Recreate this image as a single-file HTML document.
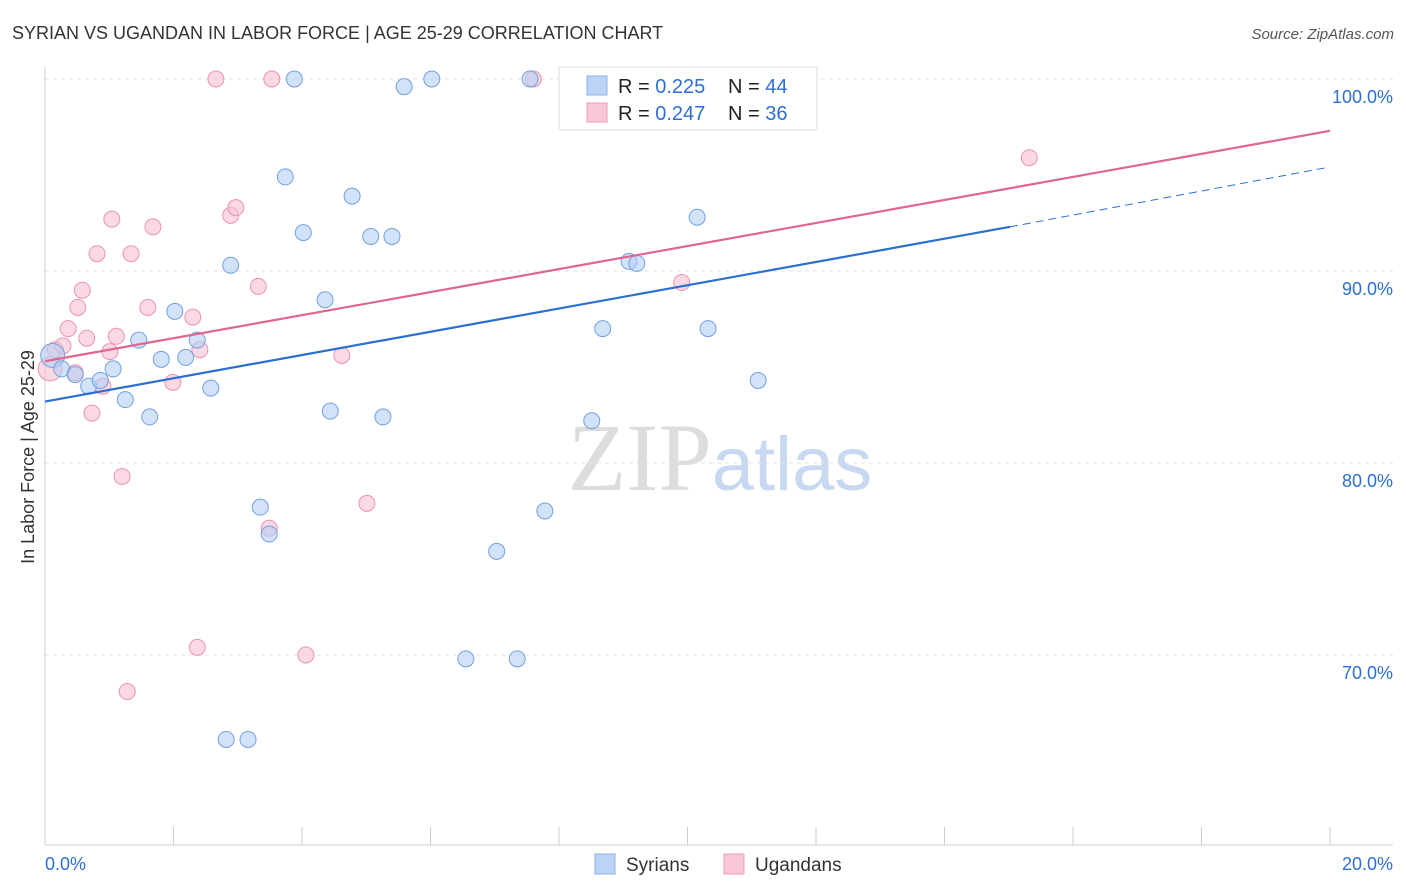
<!DOCTYPE html>
<html><head><meta charset="utf-8"><style>
body{margin:0;background:#fff;font-family:"Liberation Sans",sans-serif}
svg{display:block}
</style></head><body>
<svg id="chart" width="1406" height="892" xmlns="http://www.w3.org/2000/svg">
<text x="12" y="39" font-size="18" fill="#333" font-family="Liberation Sans, sans-serif">SYRIAN VS UGANDAN IN LABOR FORCE | AGE 25-29 CORRELATION CHART</text>
<text x="1394" y="39" font-size="15" fill="#555" text-anchor="end" font-style="italic">Source: ZipAtlas.com</text>
<text x="720" y="490" font-size="96" text-anchor="middle" font-family="Liberation Serif, serif" fill="#ddd">ZIP<tspan fill="#c8d8f0" font-family="Liberation Sans, sans-serif" font-size="76">atlas</tspan></text>
<g id="grid"></g><g id="axes"></g><g id="pts"></g><g id="lines"></g>
<text transform="translate(34,457) rotate(-90)" font-size="18" fill="#333" text-anchor="middle">In Labor Force | Age 25-29</text>
<g>
<rect x="559" y="67" width="258" height="63" fill="#fff" stroke="#ddd"/>
<rect x="587" y="76" width="20" height="19" fill="#bcd4f6" stroke="#8eb2e8"/>
<text x="618" y="93" font-size="20" fill="#222">R = <tspan fill="#2d6fd6">0.225</tspan></text>
<text x="728" y="93" font-size="20" fill="#222">N = <tspan fill="#2d6fd6">44</tspan></text>
<rect x="587" y="103" width="20" height="19" fill="#f9c8d6" stroke="#ef9bb4"/>
<text x="618" y="120" font-size="20" fill="#222">R = <tspan fill="#2d6fd6">0.247</tspan></text>
<text x="728" y="120" font-size="20" fill="#222">N = <tspan fill="#2d6fd6">36</tspan></text>
</g>
<g>
<rect x="595" y="854" width="20" height="20" fill="#bcd4f6" stroke="#8eb2e8"/>
<text x="626" y="871" font-size="19" fill="#333">Syrians</text>
<rect x="724" y="854" width="20" height="20" fill="#f9c8d6" stroke="#ef9bb4"/>
<text x="755" y="871" font-size="19" fill="#333">Ugandans</text>
</g>
</svg>
<script>
const xTicks=[0,20];
const yTicks=[70,80,90,100];
const syrX=[0.12,0.26,0.47,0.68,0.86,1.06,1.25,1.46,1.63,1.81,2.02,2.19,2.37,2.58,2.89,3.35,3.49,3.74,3.88,4.02,4.36,4.44,4.78,5.07,5.26,5.40,5.59,6.02,6.55,7.03,7.35,7.55,7.78,8.51,8.68,9.09,9.21,10.15,10.32,10.68,11.10,2.82,3.16,8.95];
const syrY=[85.6,84.9,84.6,84.0,84.3,84.9,83.3,86.4,82.4,85.4,87.9,85.5,86.4,83.9,90.3,77.7,76.3,94.9,100,92.0,88.5,82.7,93.9,91.8,82.4,91.8,99.6,100,69.8,75.4,69.8,100,77.5,82.2,87.0,90.5,90.4,92.8,87.0,100,84.3,65.6,65.6,100];
const ugaX=[0.08,0.16,0.28,0.36,0.47,0.51,0.58,0.65,0.81,0.90,1.01,1.04,1.11,1.20,1.28,1.34,1.60,1.68,1.99,2.30,2.37,2.41,2.66,2.89,2.97,3.32,3.49,3.53,4.06,4.62,5.01,7.60,9.91,15.32,0.73];
const ugaY=[84.9,85.9,86.1,87.0,84.7,88.1,89.0,86.5,90.9,84.0,85.8,92.7,86.6,79.3,68.1,90.9,88.1,92.3,84.2,87.6,70.4,85.9,100,92.9,93.3,89.2,76.6,100,70.0,85.6,77.9,100,89.4,95.9,82.6];
const syrTrend=[83.2,92.3,95.4]; const syrTrendX=[0,15.02,20];
const ugaTrend=[85.3,97.3]; const ugaTrendX=[0,20];
const NS='http://www.w3.org/2000/svg';
const X=v=>45+v/20*1285, Y=v=>79+(100-v)*19.2;
function mk(t,a,p){const e=document.createElementNS(NS,t);for(const k in a)e.setAttribute(k,a[k]);p.appendChild(e);return e;}
const g=document.getElementById('grid'),ax=document.getElementById('axes'),pts=document.getElementById('pts'),ln=document.getElementById('lines');
yTicks.forEach(t=>{const l=mk('line',{x1:45,x2:1393,y1:Y(t),y2:Y(t),stroke:'#e2e2e2','stroke-dasharray':'4 4'},g);


const tx=mk('text',{x:1393,y:Y(t)+24,'font-size':18,fill:'#2d6fd6','text-anchor':'end'},ax);tx.textContent=t.toFixed(1)+'%';

});
mk('line',{x1:45,x2:45,y1:67,y2:845,stroke:'#ccc'},ax);
mk('line',{x1:45,x2:1393,y1:845,y2:845,stroke:'#ccc'},ax);
for(let i=1;i<=10;i++){mk('line',{x1:X(i*2),x2:X(i*2),y1:827,y2:845,stroke:'#ccc'},ax);}
xTicks.forEach((t,i)=>{const tx=mk('text',{x:i?1393:45,y:870,'font-size':18,fill:'#2d6fd6','text-anchor':i?'end':'start'},ax);tx.textContent=t.toFixed(1)+'%';

});
function dots(xs,ys,f,s,name){xs.forEach((x,i)=>{const c=mk('circle',{cx:X(x),cy:Y(ys[i]),r:i===0?12:8,fill:f,'fill-opacity':0.6,stroke:s,'stroke-width':1},pts);

});}
dots(ugaX,ugaY,'#f9c0d2','#ec93ae','ugandan-point');
dots(syrX,syrY,'#b4cff5','#73a0de','syrian-point');
let a=mk('line',{x1:X(syrTrendX[0]),y1:Y(syrTrend[0]),x2:X(syrTrendX[1]),y2:Y(syrTrend[1]),stroke:'#2b6fd2','stroke-width':2.2},ln);


a=mk('line',{x1:X(syrTrendX[1]),y1:Y(syrTrend[1]),x2:X(syrTrendX[2])-2,y2:Y(syrTrend[2]),stroke:'#2b6fd2','stroke-width':1,'stroke-dasharray':'8 5'},ln);


a=mk('line',{x1:X(ugaTrendX[0]),y1:Y(ugaTrend[0]),x2:X(ugaTrendX[1]),y2:Y(ugaTrend[1]),stroke:'#e06590','stroke-width':2.2},ln);


</script>
</body></html>
